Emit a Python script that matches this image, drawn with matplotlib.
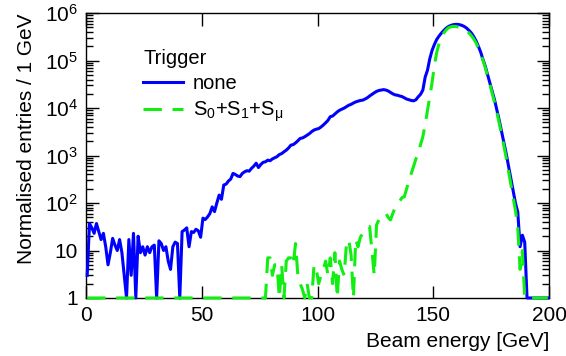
import matplotlib
matplotlib.use("Agg")
import matplotlib.pyplot as plt
import matplotlib.ticker as ticker
import numpy as np

# 1 GeV bins from 0 to 200 GeV
bin_edges = np.arange(0, 201, 1)

# entries per bin, no trigger
counts_none = [
    3, 37, 30, 23, 37, 25, 17, 23, 12, 5,
    9, 18, 13, 10, 17, 9, 3, 0, 17, 3,
    23, 0, 20, 9, 12, 8, 12, 9, 12, 13,
    0, 16, 14, 10, 12, 6, 4, 12, 15, 14,
    0, 25, 27, 30, 12, 25, 24, 28, 26, 19,
    48, 45, 51, 60, 83, 66, 100, 147, 120, 240,
    250, 290, 320, 420, 400, 370, 360, 420, 455, 480,
    470, 540, 600, 690, 560, 650, 720, 740, 800, 780,
    850, 900, 950, 1050, 1100, 1200, 1300, 1450, 1660, 1700,
    1850, 2050, 2300, 2350, 2500, 2700, 2900, 3200, 3450, 3600,
    3700, 4000, 4400, 4900, 5500, 6600, 6800, 7500, 8300, 9000,
    9500, 10000, 10700, 11500, 12000, 12800, 13500, 14000, 14500, 14700,
    15500, 16500, 18000, 19500, 21000, 22500, 23500, 24000, 24500, 24000,
    23000, 21500, 20000, 19000, 18700, 18000, 17500, 16500, 15500, 15000,
    14500, 14200, 15000, 17300, 19500, 24000, 45000, 63000, 110000, 165000,
    220000, 280000, 330000, 380000, 430000, 480000, 520000, 550000, 570000, 580000,
    580000, 570000, 550000, 520000, 480000, 430000, 380000, 320000, 260000, 200000,
    150000, 105000, 75000, 50000, 34000, 22000, 14700, 9000, 5500, 3200,
    1900, 1100, 600, 320, 180, 100, 65, 12, 21, 15,
    0, 0, 0, 0, 0, 0, 0, 0, 0, 0,
]

# entries per bin, trigger S0+S1+Smu
counts_trig = [
    0, 0, 0, 0, 0, 0, 0, 0, 0, 0,
    0, 0, 0, 0, 0, 0, 0, 0, 0, 0,
    0, 0, 0, 0, 0, 0, 0, 0, 0, 0,
    0, 0, 0, 0, 0, 0, 0, 0, 0, 0,
    0, 0, 0, 0, 0, 0, 0, 0, 0, 0,
    0, 0, 0, 0, 0, 0, 0, 0, 0, 0,
    0, 0, 0, 0, 0, 0, 0, 0, 0, 0,
    0, 0, 0, 0, 0, 0, 0, 0, 7, 7,
    3, 5, 5, 0, 5, 1, 6, 7, 7, 5,
    14, 3, 2, 1.5, 0, 2, 0, 0, 5, 4,
    2, 3, 4, 6, 3, 7, 2, 9, 1, 6,
    4, 3, 14, 17, 8, 0, 17, 12, 19, 23,
    27, 30, 32, 10, 3, 35, 44, 50, 55, 61,
    50, 44, 60, 80, 98, 110, 130, 136, 200, 300,
    420, 600, 850, 1100, 1700, 2500, 4500, 9000, 18000, 35000,
    80000, 150000, 230000, 310000, 380000, 440000, 490000, 515000, 525000, 525000,
    515000, 500000, 480000, 450000, 420000, 380000, 335000, 285000, 235000, 185000,
    140000, 100000, 70000, 47000, 31000, 20000, 13000, 8000, 4800, 2800,
    1600, 900, 480, 250, 130, 70, 30, 4, 10, 0,
    0, 0, 0, 0, 0, 0, 0, 0, 0, 0,
]

y_ticks = [1, 10, 1e2, 1e3, 1e4, 1e5, 1e6]
y_tick_labels = ["1", "10", "$\\mathregular{10^2}$", "$\\mathregular{10^3}$",
                 "$\\mathregular{10^4}$", "$\\mathregular{10^5}$", "$\\mathregular{10^6}$"]
x_ticks = [0, 50, 100, 150, 200]


def main():
    plt.rcParams['font.family'] = ['Liberation Sans', 'DejaVu Sans']
    plt.rcParams['mathtext.fontset'] = 'custom'
    plt.rcParams['mathtext.rm'] = 'Liberation Sans'

    fig = plt.figure(figsize=(5.66, 3.56), dpi=100)
    ax = fig.add_axes([0.152, 0.163, 0.818, 0.800])

    centres = 0.5 * (bin_edges[:-1] + bin_edges[1:])
    # empty bins sit on the lower edge of the log axis
    none_vals = np.clip(np.array(counts_none, dtype=float), 1, None)
    trig_vals = np.clip(np.array(counts_trig, dtype=float), 1, None)

    ax.plot(centres, none_vals, color='#0000ff', lw=2.2, label='none',
            clip_on=False, zorder=3)
    trig_label = ('S$_{\\mathregular{0}}$+S$_{\\mathregular{1}}$'
                  '+S$_{\\mathregular{μ}}$')
    ax.plot(centres, trig_vals, color='#11ee11', lw=2.2, ls=(0, (6, 3.5)),
            label=trig_label, clip_on=False, zorder=4)

    ax.set_yscale('log')
    ax.set_xlim(0, 200)
    ax.set_ylim(1, 1e6)

    ax.set_xticks(x_ticks)
    ax.set_xticklabels([str(v) for v in x_ticks])
    ax.set_yticks(y_ticks)
    ax.set_yticklabels(y_tick_labels)
    ax.yaxis.set_minor_locator(ticker.LogLocator(base=10, subs=np.arange(2, 10)))
    ax.yaxis.set_minor_formatter(ticker.NullFormatter())

    ax.tick_params(which='both', direction='in', top=True, right=True,
                   labelsize=15, width=1.0)
    ax.tick_params(which='major', length=9, pad=6)
    ax.tick_params(which='minor', length=5)
    for side in ax.spines.values():
        side.set_linewidth(1.0)

    ax.set_xlabel('Beam energy [GeV]', fontsize=15, loc='right', labelpad=5)
    ax.set_ylabel('Normalised entries / 1 GeV', fontsize=15, loc='top', labelpad=6)

    leg = ax.legend(title='Trigger', loc='upper left', bbox_to_anchor=(0.093, 0.925),
                    frameon=False, fontsize=14.5, title_fontsize=14.5,
                    handlelength=2.0, handletextpad=0.45, labelspacing=0.32,
                    borderpad=0.2)
    leg._legend_box.align = 'left'

    plt.savefig('out.png', dpi=100)


if __name__ == "__main__":
    main()
